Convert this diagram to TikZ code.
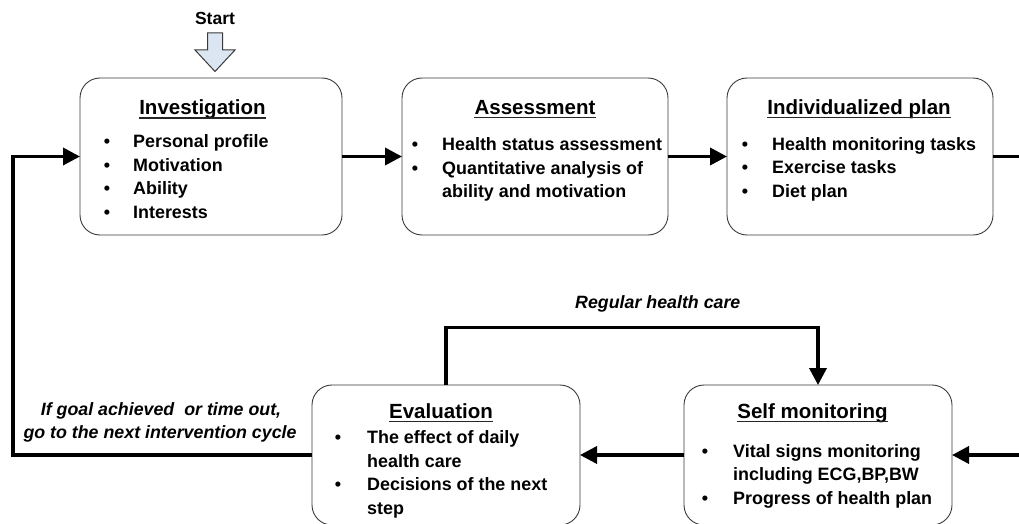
\documentclass[tikz,border=0pt]{standalone}
\usepackage{fontspec}
\setmainfont{Liberation Sans}
\usetikzlibrary{arrows.meta}

\definecolor{boxline}{HTML}{3A3A3A}
\definecolor{startfill}{HTML}{DCE6F2}

\tikzset{
  stagebox/.style={draw=boxline, line width=0.9pt, rounded corners=20pt,
    inner sep=0pt, outer sep=0pt},
  stagetitle/.style={font=\fontsize{20.5}{24}\selectfont\bfseries,
    anchor=base, inner sep=0pt},
  uline/.style={line width=1.2pt, draw=black!85},
  itemtext/.style={font=\fontsize{17.9}{23.5}\selectfont\bfseries,
    anchor=base west, inner sep=0pt},
  itemdot/.style={font=\fontsize{17.9}{23.5}\selectfont\bfseries,
    anchor=base, inner sep=0pt},
  flowlabel/.style={font=\fontsize{17.8}{23.5}\selectfont\bfseries\itshape,
    inner sep=0pt},
  flow/.style={draw=black, line width=3.6pt, line join=miter,
    -{Triangle[length=17pt,width=17pt]}},
  flowline/.style={draw=black, line width=3.6pt, line join=miter},
}

\newcommand{\stageunderline}[1]{%
  \draw[uline] ([yshift=-3.6pt]#1.base west) -- ([yshift=-3.6pt]#1.base east);}

\begin{document}
\begin{tikzpicture}[x=1pt, y=-1pt]
  \useasboundingbox[fill=white] (0,0) rectangle (1019,524);

  % ---- start marker
  \node[font=\fontsize{17.5}{20}\selectfont\bfseries, anchor=base, inner sep=0pt]
    (start) at (215,25) {Start};
  \draw[draw=boxline, line width=1pt, fill=startfill, line join=miter]
    (207.5,33) -- (222.5,33) -- (222.5,50) -- (235,50) -- (215,71.5)
    -- (195,50) -- (207.5,50) -- cycle;

  % ---- stage boxes
  \node[stagebox, minimum width=262pt, minimum height=157pt] (inv) at (211,156.5) {};
  \node[stagebox, minimum width=266pt, minimum height=157pt] (ass) at (535,156.5) {};
  \node[stagebox, minimum width=266pt, minimum height=157pt] (ind) at (860,156.5) {};
  \node[stagebox, minimum width=268pt, minimum height=140pt] (eva) at (446,455) {};
  \node[stagebox, minimum width=268pt, minimum height=140pt] (smo) at (818,455) {};

  % ---- Investigation
  \node[stagetitle] (invT) at (202.5,114.5) {Investigation};
  \stageunderline{invT}
  \foreach \y/\t [count=\i] in {147.5/Personal profile, 171/Motivation,
                                194.5/Ability, 218/Interests} {
    \node[itemdot] (invD\i) at (107,\y) {\textbullet};
    \node[itemtext] (invI\i) at (133,\y) {\t};
  }

  % ---- Assessment
  \node[stagetitle] (assT) at (535,114) {Assessment};
  \stageunderline{assT}
  \node[itemdot] (assD1) at (415,150.5) {\textbullet};
  \node[itemtext] (assI1) at (442,150.5) {Health status assessment};
  \node[itemdot] (assD2) at (415,174) {\textbullet};
  \node[itemtext] (assI2) at (442,174) {Quantitative analysis of};
  \node[itemtext] (assI3) at (442,197.5) {ability and motivation};

  % ---- Individualized plan
  \node[stagetitle] (indT) at (859,114) {Individualized plan};
  \stageunderline{indT}
  \foreach \y/\t [count=\i] in {150/Health monitoring tasks, 173.5/Exercise tasks,
                                197/Diet plan} {
    \node[itemdot] (indD\i) at (745,\y) {\textbullet};
    \node[itemtext] (indI\i) at (772,\y) {\t};
  }

  % ---- Evaluation
  \node[stagetitle] (evaT) at (441,418) {Evaluation};
  \stageunderline{evaT}
  \node[itemdot] (evaD1) at (338,443.5) {\textbullet};
  \node[itemtext] (evaI1) at (367,443.5) {The effect of daily};
  \node[itemtext] (evaI2) at (367,467) {health care};
  \node[itemdot] (evaD2) at (338,490.5) {\textbullet};
  \node[itemtext] (evaI3) at (367,490.5) {Decisions of the next};
  \node[itemtext] (evaI4) at (367,514) {step};

  % ---- Self monitoring
  \node[stagetitle] (smoT) at (812.5,418) {Self monitoring};
  \stageunderline{smoT}
  \node[itemdot] (smoD1) at (705,457) {\textbullet};
  \node[itemtext] (smoI1) at (733,457) {Vital signs monitoring};
  \node[itemtext] (smoI2) at (733,480.5) {including ECG,BP,BW};
  \node[itemdot] (smoD2) at (705,504) {\textbullet};
  \node[itemtext] (smoI3) at (733,504) {Progress of health plan};

  % ---- connectors
  \coordinate (outR) at (1020,156.5);
  \coordinate (inR) at (1020,455);
  \coordinate (loopL) at (13,0);
  \coordinate (careY) at (0,327.5);

  \draw[flow] (inv.east) -- (ass.west);
  \draw[flow] (ass.east) -- (ind.west);
  \draw[flowline] (ind.east) -- (outR);
  \draw[flow] (inR) -- (smo.east);
  \draw[flow] (smo.west) -- (eva.east);
  \draw[flow] (eva.west) -- (loopL |- eva.west) -- (loopL |- inv.west) -- (inv.west);
  \draw[flow] (eva.north) -- (eva.north |- careY) -- (smo.north |- careY) -- (smo.north);

  % ---- connector labels
  \node[flowlabel, anchor=base west] (careL) at (575,308) {Regular health care};
  \node[flowlabel, anchor=base] (loopL1) at (161,415) {If goal achieved\ \ or time out,};
  \node[flowlabel, anchor=base] (loopL2) at (160,438) {go to the next intervention cycle};
\end{tikzpicture}
\end{document}
